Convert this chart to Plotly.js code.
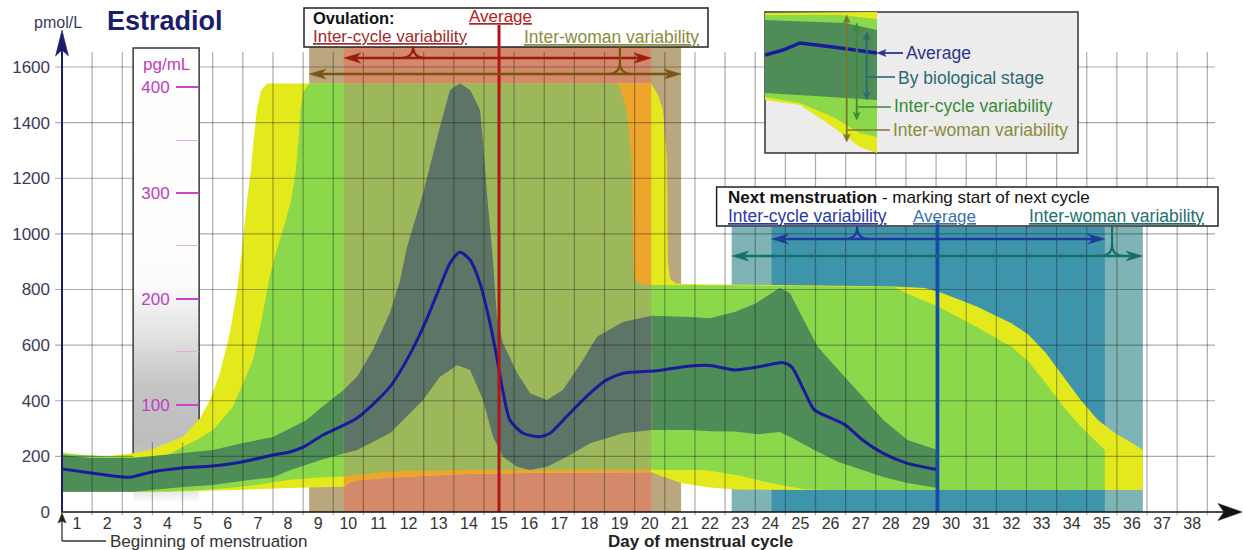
<!DOCTYPE html>
<html><head><meta charset="utf-8">
<script src="https://cdn.plot.ly/plotly-3.0.1.min.js"></script>
<style>html,body{margin:0;padding:0;background:#fff}#chart{width:1243px;height:550px}</style>
</head><body><div id="chart"></div>
<script>
// ---------------- DATA ----------------
const dayLabels = [1,2,3,4,5,6,7,8,9,10,11,12,13,14,15,16,17,18,19,20,21,22,23,24,25,26,27,28,29,30,31,32,33,34,35,36,37,38];
const pmolTicks = [0,200,400,600,800,1000,1200,1400,1600];
const pgTicks = [100,200,300,400];
const pgMinorTicks = [150,250,350];

// inter-woman variability (yellow)
const womanUpperX = [0.5,1.0,1.5,2.0,2.86,3.42,3.98,4.51,5.08,5.41,5.74,6.07,6.31,6.47,6.64,6.77,6.87,6.97,7.10,7.30,9.85,13.0,17.0,20.05,20.27,20.44,20.57,20.6,20.67,20.87,21.5,24.0,27.0,28.1,29.13,29.7,30.85,32.0,32.57,33.15,33.72,34.3,34.87,35.44,36.02,36.36];
const womanUpperY = [216,205,200,200,211,223,247,271,337,403,499,643,798,942,1122,1230,1350,1450,1515,1541,1541,1541,1541,1541,1500,1446,1266,906,840,822,819,816,813,811,805,787,739,679,637,571,487,403,331,283,247,223];
const womanLowerX = [0.5,4.0,6.0,8.0,9.85,10.1,10.3,11.4,13.6,17.0,20.05,20.5,21.04,22.0,23.0,25.0,36.36];
const womanLowerY = [72,73,78,86,91,108,114,124,136,142,143,125,104,88,80,79,79];

// inter-cycle variability (light green)
const cycleUpperX = [0.5,2.0,3.0,4.0,4.51,5.08,5.51,6.17,6.84,7.14,7.40,7.63,7.90,8.10,8.25,8.35,8.42,8.50,8.70,9.85,14.0,18.96,19.23,19.40,19.45,19.51,19.70,20.05,22.0,25.0,28.1,28.55,29.6,30.85,32.0,32.57,33.15,33.72,34.3,34.87,35.1];
const cycleUpperY = [210,200,198,205,234,266,295,378,547,700,850,942,1040,1120,1220,1340,1450,1510,1541,1541,1541,1541,1446,1266,906,834,818,816,815,812,809,785,737,665,594,540,462,379,307,247,223];
const cycleLowerX = [0.5,3.0,4.0,5.0,6.0,7.0,8.0,9.0,9.85,11.0,12.0,14.0,18.0,20.05,21.0,21.67,22.0,23.0,24.0,25.1,26.0,35.1];
const cycleLowerY = [72,72,74,78,86,98,115,124,128,142,148,151,152,152,151,151,148,130,104,82,79,79];

// by biological stage (dark green)
const stageUpperX = [0.5,1.45,2.86,4.51,5.51,6.51,7.5,8.06,8.6,9.16,9.85,10.29,10.82,11.38,11.71,11.94,12.48,13.04,13.37,13.7,14.04,14.37,14.47,14.6,14.7,14.8,14.93,15.13,15.6,16.03,16.59,17.12,17.79,18.25,19.11,20.05,21.34,22.0,22.82,23.51,24.31,24.65,25.11,25.57,26.26,27.06,27.75,28.55,29.55];
const stageUpperY = [205,194,194,212,223,248,270,300,330,380,440,486,583,716,830,950,1146,1385,1517,1541,1517,1445,1327,1146,1025,906,701,607,500,427,403,439,547,630,683,706,701,697,719,750,805,787,690,594,511,415,331,259,223];
const stageLowerX = [0.5,2.86,4.51,5.51,6.51,7.5,8.06,9.16,9.85,10.29,11.38,12.48,13.04,13.61,14.04,14.47,14.8,15.13,15.6,16.03,16.59,17.25,18.02,19.11,20.05,21.34,22.0,22.82,23.62,24.31,24.65,25.46,26.26,27.06,27.75,28.55,29.55];
const stageLowerY = [73,73,90,97,112,125,150,190,210,223,283,403,486,528,511,403,271,199,163,151,163,199,247,283,295,295,290,289,280,288,271,223,180,151,126,104,86];

// average
const averageX = [0.5,1.46,2.5,2.76,3.49,4.48,5.48,6.47,7.5,8.06,8.5,9.16,10.29,11.38,11.94,12.49,13.04,13.37,13.7,14.04,14.37,14.7,14.92,15.14,15.36,15.8,16.36,16.69,17.24,18.02,18.57,19.12,20.23,21.34,22.0,22.82,23.62,24.42,24.71,25.11,25.46,26.03,26.49,27.06,27.75,28.55,29.53];
const averageY = [155,140,126,125,144,158,165,180,205,216,233,277,338,450,547,666,810,894,934,906,822,679,559,427,331,283,271,283,343,427,475,499,508,525,527,511,522,537,522,439,367,337,313,259,211,175,153];

// ovulation and next menstruation windows (days)
const ovulationWoman = [8.7, 21.04];
const ovulationCycle = [9.85, 20.05];
const ovulationAverage = 15;
const mensWoman = [22.72, 36.36];
const mensCycle = [24.04, 35.1];
const mensAverage = 29.55;

// legend inset illustration (local units)
const miniWomanUpperX = [0,112], miniWomanUpperY = [140,141];
const miniWomanLowerX = [0,35,68,95,112], miniWomanLowerY = [53,48,26,6,0];
const miniCycleUpperX = [0,75,112], miniCycleUpperY = [138,138,134];
const miniCycleLowerX = [0,35,68,95,112], miniCycleLowerY = [56,50,36,20,16];
const miniStageUpperX = [0,80,112], miniStageUpperY = [133,130,123];
const miniStageLowerX = [0,50,112], miniStageLowerY = [60,57,53];
const miniAvgX = [0,18,35,68,112], miniAvgY = [98,103,110,106,100];

// pg/mL scale as drawn: pmol = PG_OFFSET + PG_SLOPE * pg
const PG_OFFSET = 4, PG_SLOPE = 3.81;

// ---------------- GEOMETRY ----------------
const W = 1243, H = 550;
const X0PX = 62, DAYPX = 30.14, Y0PX = 512, VPX = 0.278125;
const xRange = [0.5 - X0PX/DAYPX, 0.5 + (W - X0PX)/DAYPX];
const yRange = [-(H - Y0PX)/VPX, Y0PX/VPX];
const PX = p => p / W;
const PY = p => 1 - p / H;
const dx = p => p / DAYPX;
const dv = p => p / VPX;

const C = {
  yellow:'#e3e91b', green:'#8bd84b', dark:'#4e8c58',
  yellowT:'#eea52c', greenT:'#9db75b', darkT:'#5c7566',
  tan:'#bba77e', salmon:'#d3896a', teal1:'#7fb4b6', teal2:'#3e95ab',
  avg:'#1a1a9c', grid:'rgba(25,25,25,0.36)'
};

function band(ux, uy, lx, ly, a, b) {
  const X = [], Y = [];
  for (let i = 0; i < ux.length; i++) if (ux[i] >= a - 1e-9 && ux[i] <= b + 1e-9) { X.push(ux[i]); Y.push(uy[i]); }
  for (let i = lx.length - 1; i >= 0; i--) if (lx[i] >= a - 1e-9 && lx[i] <= b + 1e-9) { X.push(lx[i]); Y.push(ly[i]); }
  return {X, Y};
}
function fillTrace(p, color, extra) {
  return Object.assign({type:'scatter', mode:'none', x:p.X, y:p.Y, fill:'toself', fillcolor:color, hoverinfo:'skip', showlegend:false}, extra||{});
}
function rect(x0, x1, y0, y1) { return {X:[x0,x1,x1,x0], Y:[y0,y0,y1,y1]}; }

const ALL = [-1, 99];
const traces = [];
// pg/mL scale panel
traces.push(fillTrace(rect(2.86, 5.05, 40, 1668), '#ffffff', {
  fillgradient:{type:'vertical', start:40, stop:1668,
    colorscale:[[0,'#f8f8f8'],[0.04,'#d8d8d8'],[0.13,'#bdbdbd'],[0.25,'#c4c4c4'],[0.36,'#e0e0e0'],[0.48,'#fcfcfc'],[1,'#ffffff']]}}));
traces.push({type:'scatter', mode:'lines', x:[2.86,2.86,5.05,5.05], y:[150,1668,1668,150], line:{color:'#3a3a3a', width:1.5}, hoverinfo:'skip', showlegend:false});
// windows
traces.push(fillTrace(rect(ovulationWoman[0], ovulationWoman[1], 0, 1676), C.tan));
traces.push(fillTrace(rect(ovulationCycle[0], ovulationCycle[1], 0, 1676), C.salmon));
traces.push(fillTrace(rect(mensWoman[0], mensWoman[1], 0, 1025), C.teal1));
traces.push(fillTrace(rect(mensCycle[0], mensCycle[1], 0, 1025), C.teal2));
// bands
traces.push(fillTrace(band(womanUpperX, womanUpperY, womanLowerX, womanLowerY, ALL[0], ALL[1]), C.yellow));
traces.push(fillTrace(band(cycleUpperX, cycleUpperY, cycleLowerX, cycleLowerY, ALL[0], ALL[1]), C.green));
traces.push(fillTrace(band(stageUpperX, stageUpperY, stageLowerX, stageLowerY, ALL[0], ALL[1]), C.dark));
// tinted inside ovulation inter-cycle window
const [oa, ob] = ovulationCycle;
traces.push(fillTrace(band(womanUpperX, womanUpperY, womanLowerX, womanLowerY, oa, ob), C.yellowT));
traces.push(fillTrace(band(cycleUpperX, cycleUpperY, cycleLowerX, cycleLowerY, oa, ob), C.greenT));
traces.push(fillTrace(band(stageUpperX, stageUpperY, stageLowerX, stageLowerY, oa, ob), C.darkT));
// average
traces.push({type:'scatter', mode:'lines', x:averageX, y:averageY, line:{color:C.avg, width:3, shape:'spline', smoothing:0.7}, hoverinfo:'skip', showlegend:false});
// anchors so that the pg/mL axis and the legend-inset axes get drawn
traces.push({type:'scatter', mode:'markers', x:[0], y:[pgTicks[0]], yaxis:'y2', marker:{size:1, opacity:0}, hoverinfo:'skip', showlegend:false});
traces.push({type:'scatter', mode:'markers', x:[0], y:[0], xaxis:'x2', yaxis:'y3', marker:{size:1, opacity:0}, hoverinfo:'skip', showlegend:false});

// ---------------- SHAPES ----------------
const shapes = [];
const gl = (x0,y0,x1,y1) => ({type:'line', xref:'x', yref:'y', x0, y0, x1, y1, line:{color:C.grid, width:1.2}, layer:'above'});
const panelX = [2.86, 5.05];
for (const d of dayLabels) {
  const x = d + 0.5;
  const top = (x > panelX[0] && x < panelX[1]) ? 250 : 1654;
  shapes.push(gl(x, -12, x, top));
}
for (const v of pmolTicks) {
  if (v === 0) continue;
  shapes.push(gl(0.5 - dx(7), v, panelX[0], v));
  shapes.push(gl(panelX[1], v, 0.5 + dx(1153), v));
}
function pp(xp, yp) { return PX(xp) + ',' + PY(yp); }
function pline(x0,y0,x1,y1,color,width){ return {type:'line', xref:'paper', yref:'paper', x0:PX(x0), y0:PY(y0), x1:PX(x1), y1:PY(y1), line:{color, width}, layer:'above'}; }
function ppath(pts, color){ return {type:'path', xref:'paper', yref:'paper', path:'M'+pts.map(p=>pp(p[0],p[1])).join(' L')+' Z', fillcolor:color, line:{color, width:0.5}, layer:'above'}; }

// boxes
shapes.push({type:'rect', xref:'paper', yref:'paper', x0:PX(304), x1:PX(708), y0:PY(47), y1:PY(8), fillcolor:'#ffffff', line:{color:'#222', width:1.5}, layer:'above'});
shapes.push({type:'rect', xref:'paper', yref:'paper', x0:PX(716.6), x1:PX(1218), y0:PY(226), y1:PY(187), fillcolor:'#ffffff', line:{color:'#222', width:1.5}, layer:'above'});
shapes.push({type:'rect', xref:'paper', yref:'paper', x0:PX(765), x1:PX(1078), y0:PY(153), y1:PY(12), fillcolor:'#ececec', line:{color:'#333', width:1.5}, layer:'above'});

// average vertical lines
shapes.push({type:'line', xref:'x', yref:'y', x0:ovulationAverage, x1:ovulationAverage, y0:0, y1:dv(512-25), line:{color:'#b3141a', width:3}, layer:'above'});
shapes.push({type:'line', xref:'x', yref:'y', x0:mensAverage, x1:mensAverage, y0:0, y1:dv(512-220), line:{color:'#0f4fa8', width:3.5}, layer:'above'});

// double arrows with braces (data coordinates)
function hArrow(x0, x1, v, color, w) {
  const L = dx(17), hh = dv(5), n = dx(5);
  return [
    {type:'line', xref:'x', yref:'y', x0:x0+L-n, x1:x1-L+n, y0:v, y1:v, line:{color, width:w}, layer:'above'},
    {type:'path', xref:'x', yref:'y', path:`M${x0},${v} L${x0+L},${v+hh} L${x0+L-n},${v} L${x0+L},${v-hh} Z`, fillcolor:color, line:{color, width:0.5}, layer:'above'},
    {type:'path', xref:'x', yref:'y', path:`M${x1},${v} L${x1-L},${v+hh} L${x1-L+n},${v} L${x1-L},${v-hh} Z`, fillcolor:color, line:{color, width:0.5}, layer:'above'}
  ];
}
function brace(xc, v, vTop, color, w) {
  const a = dx(12), b = dv(12);
  return {type:'path', xref:'x', yref:'y', path:`M${xc-a},${v} Q${xc},${v} ${xc},${v+b} Q${xc},${v} ${xc+a},${v} M${xc},${v+b} L${xc},${vTop}`, line:{color, width:w}, layer:'above'};
}
shapes.push(...hArrow(ovulationCycle[0], ovulationCycle[1], dv(512-58), '#9b1c10', 2.5));
shapes.push(brace(12.15, dv(512-58), dv(512-47), '#9b1c10', 2.2));
shapes.push(...hArrow(ovulationWoman[0], ovulationWoman[1], dv(512-74), '#7a5416', 2.5));
shapes.push(brace(19.01, dv(512-74), dv(512-47), '#7a5416', 2.2));
shapes.push(...hArrow(mensCycle[0], mensCycle[1], dv(512-239), '#1e3a9a', 2.5));
shapes.push(brace(26.88, dv(512-239), dv(512-226), '#1e3a9a', 2.2));
shapes.push(...hArrow(mensWoman[0], mensWoman[1], dv(512-256), '#16706a', 2.5));
shapes.push(brace(35.34, dv(512-256), dv(512-226), '#16706a', 2.2));

// legend inset illustration (in its own axes)
function pathOf(xs, ys, close){ return 'M' + xs.map((x,i)=>x+','+ys[i]).join(' L') + (close?' Z':''); }
function miniBand(ux,uy,lx,ly,color){
  return {type:'path', xref:'x2', yref:'y3', path:pathOf(ux.concat(lx.slice().reverse()), uy.concat(ly.slice().reverse()), true), fillcolor:color, line:{width:0}, layer:'above'};
}
shapes.push(miniBand(miniWomanUpperX, miniWomanUpperY, miniWomanLowerX, miniWomanLowerY, C.yellow));
shapes.push(miniBand(miniCycleUpperX, miniCycleUpperY, miniCycleLowerX, miniCycleLowerY, C.green));
shapes.push(miniBand(miniStageUpperX, miniStageUpperY, miniStageLowerX, miniStageLowerY, C.dark));
shapes.push({type:'path', xref:'x2', yref:'y3', path:pathOf(miniAvgX, miniAvgY, false), line:{color:C.avg, width:3.5}, layer:'above'});
function vArrow(u, w0, w1, color) {
  const L = 8, hh = 3.5, n = 2;
  return [
    {type:'line', xref:'x2', yref:'y3', x0:u, x1:u, y0:w0-L+n, y1:w1+L-n, line:{color, width:1.8}, layer:'above'},
    {type:'path', xref:'x2', yref:'y3', path:`M${u},${w0} L${u-hh},${w0-L} L${u},${w0-L+n} L${u+hh},${w0-L} Z`, fillcolor:color, line:{color, width:0.5}, layer:'above'},
    {type:'path', xref:'x2', yref:'y3', path:`M${u},${w1} L${u-hh},${w1+L} L${u},${w1+L-n} L${u+hh},${w1+L} Z`, fillcolor:color, line:{color, width:0.5}, layer:'above'}
  ];
}
shapes.push(...vArrow(81.7, 138, 11, '#77772a'));
shapes.push(...vArrow(91.7, 130, 33, '#3a8a3a'));
shapes.push(...vArrow(101.7, 121, 53, '#2a6a70'));
shapes.push(pline(884, 53, 903, 53, '#2b3590', 1.8));
shapes.push(ppath([[877,53],[886,49.5],[884,53],[886,56.5]], '#2b3590'));
shapes.push(pline(866.7, 77, 895, 77, '#2a6b70', 1.6));
shapes.push(pline(856.7, 107, 891, 107, '#3a8a3a', 1.6));
shapes.push(pline(846.7, 130, 890, 130, '#7a7a30', 1.6));

// axes lines and arrows
shapes.push(pline(62, 512, 62, 50, '#1c1c6c', 2));
shapes.push(ppath([[62,30],[68.5,56],[62,50],[55.5,56]], '#1c1c6c'));
shapes.push(pline(61, 512, 1224, 512, '#111', 1.6));
shapes.push(ppath([[1242,512],[1218,503.5],[1224,512],[1218,520.5]], '#111'));
// beginning of menstruation pointer
shapes.push(pline(62, 541, 106, 541, '#333', 1.3));
shapes.push(pline(62, 541, 62, 520, '#333', 1.3));
shapes.push(ppath([[62,513],[66,523],[62,521],[58,523]], '#222'));

// ---------------- ANNOTATIONS ----------------
const FONT = 'Liberation Sans, Arial, sans-serif';
function txt(text, xpx, ypx, size, color, xanchor) {
  return {xref:'paper', yref:'paper', x:PX(xpx), y:PY(ypx), text, showarrow:false, xanchor:xanchor||'left', yanchor:'middle', borderpad:0, font:{family:FONT, size, color}};
}
const annotations = [
  txt('pmol/L', 58, 22, 16, '#3a3a5a', 'center'),
  txt('<b>Estradiol</b>', 165, 21, 27, '#1c1c6e', 'center'),
  txt('pg/mL', 167, 65, 17, '#c23cc2', 'center'),
  txt('<b>Ovulation:</b>', 312, 17.5, 16.5, '#111'),
  txt('<u>Average</u>', 500, 17, 17, '#b22222', 'center'),
  txt('<u>Inter-cycle variability</u>', 312, 37, 17, '#a52a2a'),
  txt('<u>Inter-woman variability</u>', 523, 37, 17.5, '#8c8c3c'),
  txt('<b>Next menstruation</b> - marking start of next cycle', 727, 197, 17, '#111'),
  txt('<u>Inter-cycle variability</u>', 727, 216, 17.5, '#2a3aa8'),
  txt('<u>Average</u>', 944, 216, 17, '#3a72aa', 'center'),
  txt('<u>Inter-woman variability</u>', 1028, 216, 17.5, '#1f6f6f'),
  txt('Average', 905, 53, 17.5, '#2b3590'),
  txt('By biological stage', 897, 78, 17.5, '#2a6b70'),
  txt('Inter-cycle variability', 893, 106, 17.5, '#3a8a3a'),
  txt('Inter-woman variability', 892, 130, 17.5, '#8a8a3a'),
  txt('<b>Day of menstrual cycle</b>', 700, 541, 17, '#222', 'center'),
  txt('Beginning of menstruation', 109, 541, 17, '#333')
];

// ---------------- LAYOUT ----------------
const layout = {
  width: W, height: H,
  margin: {l:0, r:0, t:0, b:0, pad:0},
  paper_bgcolor:'#ffffff', plot_bgcolor:'rgba(0,0,0,0)',
  font:{family:FONT, color:'#333'},
  showlegend:false,
  xaxis:{range:xRange, anchor:'free', position:1 - Y0PX/H, tickvals:dayLabels, ticktext:dayLabels.map(String), ticks:'', showgrid:false, zeroline:false, showline:false, tickfont:{size:16, color:'#333'}, fixedrange:true},
  yaxis:{range:yRange, anchor:'free', position:PX(X0PX), tickvals:pmolTicks, ticktext:pmolTicks.map(String), ticks:'', ticklabelstandoff:12, showgrid:false, zeroline:false, showline:false, tickfont:{size:17, color:'#3b3b5b'}, fixedrange:true},
  yaxis2:{overlaying:'y', anchor:'free', position:PX(199), side:'left', range:yRange.map(v => (v - PG_OFFSET)/PG_SLOPE),
    tickmode:'array', tickvals:pgTicks, ticktext:pgTicks.map(String), ticks:'outside', ticklen:23, tickwidth:2, tickcolor:'#cc44cc', ticklabelstandoff:3,
    tickfont:{size:17, color:'#c23cc2'}, showgrid:false, zeroline:false, showline:false, fixedrange:true,
    minor:{tickmode:'array', tickvals:pgMinorTicks, ticks:'outside', ticklen:23, tickwidth:1, tickcolor:'#e2b0e2', showgrid:false}},
  xaxis2:{domain:[PX(765), PX(877)], range:[0,112], anchor:'y3', visible:false, fixedrange:true},
  yaxis3:{domain:[PY(153), PY(12)], range:[0,141], anchor:'x2', visible:false, fixedrange:true},
  shapes, annotations
};

Plotly.newPlot('chart', traces, layout, {displayModeBar:false, staticPlot:true});
</script>
</body></html>
